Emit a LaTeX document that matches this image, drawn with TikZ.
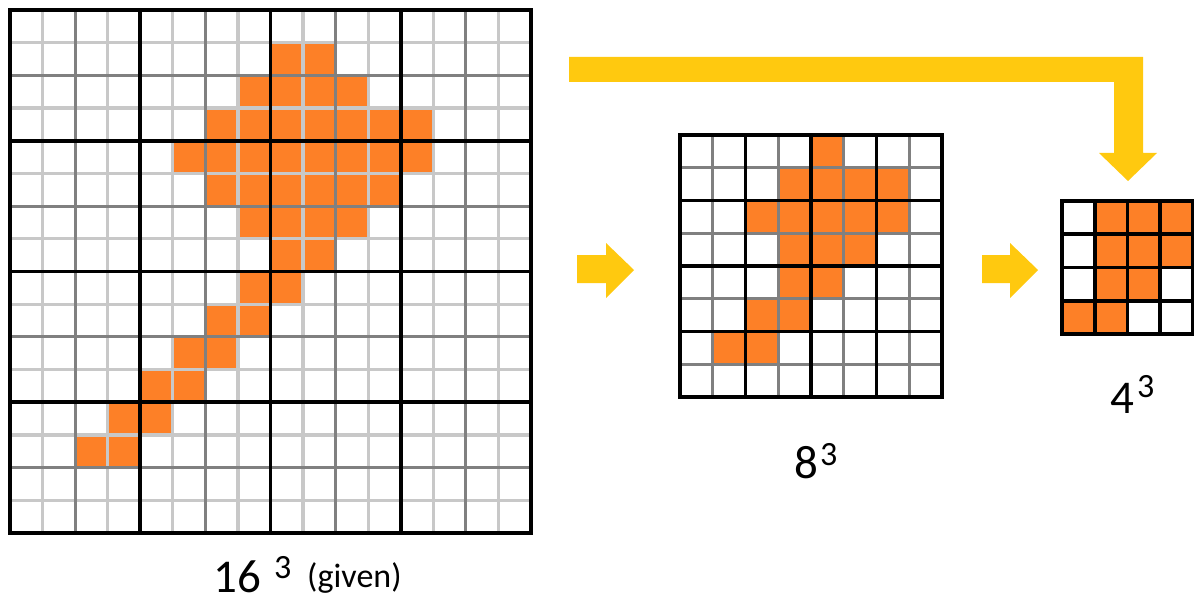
\documentclass[tikz,border=0pt]{standalone}
\usepackage{fontspec}
\setmainfont{Carlito}
\definecolor{cellorange}{HTML}{FD8027}
\definecolor{arrowyellow}{HTML}{FFC90F}
\definecolor{lightline}{HTML}{C8C8C8}
\definecolor{darkline}{HTML}{808080}
\tikzset{
  cell/.style={fill=cellorange},
  thinline/.style={draw=lightline, line width=3.2pt},
  midline/.style={draw=darkline, line width=3pt},
  boldline/.style={draw=black, line width=3.8pt},
  blockarrow/.style={fill=arrowyellow},
  lbl/.style={anchor=base west, inner sep=0pt},
}
\begin{document}
\begin{tikzpicture}[x=1pt,y=-1pt]
\useasboundingbox[fill=white] (0,0) rectangle (1194,599);

% ---------- 16^3 grid ----------
\def\bx{32.56}\def\by{32.69}
\foreach \r/\a/\b in {1/8/9, 2/7/10, 3/6/12, 4/5/12, 5/6/11, 6/7/10, 7/8/9, 8/7/8, 9/6/7, 10/5/6, 11/4/5, 12/3/4, 13/2/3}
  \fill[cell] ({10+\a*\bx},{10+\r*\by}) rectangle ({10+(\b+1)*\bx},{10+(\r+1)*\by});
\foreach \i in {1,3,...,15} {
  \draw[thinline] ({10+\i*\bx},10) -- ({10+\i*\bx},533);
  \draw[thinline] (10,{10+\i*\by}) -- (531,{10+\i*\by});
}
\foreach \i in {2,6,10,14} {
  \draw[midline] ({10+\i*\bx},10) -- ({10+\i*\bx},533);
  \draw[midline] (10,{10+\i*\by}) -- (531,{10+\i*\by});
}
\foreach \i in {4,8,12} {
  \draw[boldline] ({10+\i*\bx},10) -- ({10+\i*\bx},533);
  \draw[boldline] (10,{10+\i*\by}) -- (531,{10+\i*\by});
}
\draw[boldline] (10,10) rectangle (531,533);

% ---------- 8^3 grid ----------
\def\mx{32.75}\def\my{32.75}
\foreach \r/\a/\b in {0/4/4, 1/3/6, 2/2/6, 3/3/5, 4/3/4, 5/2/3, 6/1/2}
  \fill[cell] ({680+\a*\mx},{135+\r*\my}) rectangle ({680+(\b+1)*\mx},{135+(\r+1)*\my});
\foreach \i in {1,3,5,7} {
  \draw[midline] ({680+\i*\mx},135) -- ({680+\i*\mx},397);
  \draw[midline] (680,{135+\i*\my}) -- (942,{135+\i*\my});
}
\foreach \i in {2,4,6} {
  \draw[boldline] ({680+\i*\mx},135) -- ({680+\i*\mx},397);
  \draw[boldline] (680,{135+\i*\my}) -- (942,{135+\i*\my});
}
\draw[boldline] (680,135) rectangle (942,397);

% ---------- 4^3 grid ----------
\def\sx{32.75}\def\sy{33.25}
\foreach \r/\a/\b in {0/1/3, 1/1/3, 2/1/2, 3/0/1}
  \fill[cell] ({1062+\a*\sx},{201+\r*\sy}) rectangle ({1062+(\b+1)*\sx},{201+(\r+1)*\sy});
\foreach \i in {1,2,3} {
  \draw[boldline] ({1062+\i*\sx},201) -- ({1062+\i*\sx},334);
  \draw[boldline] (1062,{201+\i*\sy}) -- (1193,{201+\i*\sy});
}
\draw[boldline] (1062,201) rectangle (1193,334);

% ---------- arrows ----------
\fill[blockarrow] (577,255) -- (606,255) -- (606,243) -- (634,270) -- (606,298) -- (606,283) -- (577,283) -- cycle;
\fill[blockarrow] (982,255) -- (1010,255) -- (1010,243) -- (1038,270) -- (1010,298) -- (1010,283) -- (982,283) -- cycle;
\fill[blockarrow] (569,57) -- (1143,57) -- (1143,153) -- (1157,153) -- (1128,181) -- (1099,153) -- (1114,153) -- (1114,82) -- (569,82) -- cycle;

% ---------- labels ----------
\node[lbl] (n16) at (213,592) {\fontsize{47}{50}\selectfont 16};
\node[lbl] (s16) at (274,578) {\fontsize{34}{35}\selectfont 3};
\node[lbl] (giv) at (307,587) {\fontsize{34}{36}\selectfont (given)};
\node[lbl] (n8) at (794,478) {\fontsize{47}{50}\selectfont 8};
\node[lbl] (s8) at (820,465) {\fontsize{34}{35}\selectfont 3};
\node[lbl] (n4) at (1110,413) {\fontsize{47}{50}\selectfont 4};
\node[lbl] (s4) at (1137,397) {\fontsize{34}{35}\selectfont 3};
\end{tikzpicture}
\end{document}
